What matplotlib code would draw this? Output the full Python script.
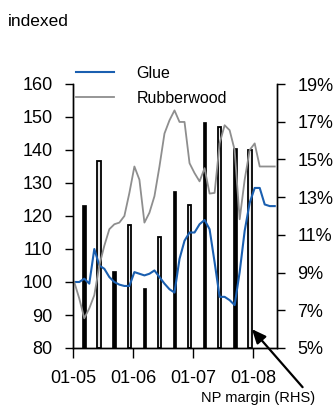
import matplotlib
matplotlib.use("Agg")
import matplotlib.pyplot as plt
import numpy as np
from matplotlib.ticker import FuncFormatter

plt.rcParams['font.family'] = ['Liberation Sans', 'DejaVu Sans']

# indices mensais, jan/05 = 100
glue = [100, 100, 101, 99.5, 110, 105, 104, 101.5, 100, 99.2, 98.8, 98.8,
        103, 102.5, 102, 102.5, 103.5, 101.5, 99.5, 97.8, 96.8, 107, 112.5, 115,
        115, 117.5, 118.8, 116, 106, 95.5, 95.5, 94.5, 93, 103, 115.5, 124,
        128.5, 128.5, 123.5, 123, 123]
rubberwood = [100, 95, 89, 92, 96, 105, 111, 116, 117.5, 118, 120, 127,
              135, 131, 118, 121, 126, 135, 145, 149, 152, 148.5, 148.5, 136,
              133, 130.5, 134.5, 126.8, 127, 142, 147.5, 146, 140, 119, 131, 140,
              142, 135, 135, 135, 135]

# margem liquida trimestral (eixo direito)
quarter_month = [2, 5, 8, 11, 14, 17, 20, 23, 26, 29, 32, 35]
np_margin = [12.6, 14.9, 9.1, 11.5, 8.2, 10.9, 13.3, 12.6, 17.0, 16.7, 15.6, 15.5]

year_ticks = [0, 12, 24, 36]
year_labels = ["01-05", "01-06", "01-07", "01-08"]

months = np.arange(len(glue)) + 0.25
qx = np.array(quarter_month) + 0.25

fig = plt.figure(figsize=(3.35, 4.05), dpi=100)
ax = fig.add_axes([73/335, 1 - 348/405, 204/335, 264/405])
ax2 = ax.twinx()

# barras alternadas: cheias e vazadas
for i, (x, v) in enumerate(zip(qx, np_margin)):
    if i % 2 == 0:
        ax2.bar(x, v - 5, bottom=5, width=0.75, color='black', edgecolor='black', linewidth=0.5)
    else:
        ax2.bar(x, v - 5, bottom=5, width=0.75, color='#ececec', edgecolor='black', linewidth=1.3)

ax.plot(months, glue, color='#1a5fb0', lw=1.5, label='Glue')
ax.plot(months, rubberwood, color='#8e8e8e', lw=1.3, label='Rubberwood')

ax.set_zorder(ax2.get_zorder() + 1)
ax.patch.set_visible(False)

ax.set_xlim(0, 40.7)
ax.set_ylim(80, 160)
ax.set_yticks(np.arange(80, 161, 10))
ax2.set_ylim(5, 19)
ax2.set_yticks(np.arange(5, 20, 2))
ax2.yaxis.set_major_formatter(FuncFormatter(lambda v, p: f"{v:.0f}%"))
ax.set_xticks(year_ticks)
ax.set_xticklabels(year_labels)

for a in (ax, ax2):
    a.spines['top'].set_visible(False)
    for s in a.spines.values():
        s.set_linewidth(1.0)
    a.tick_params(direction='out', length=6, width=1.0, labelsize=13, pad=8.5)
ax.tick_params(axis='x', length=7, pad=8.5)

leg = ax.legend(loc='upper left', bbox_to_anchor=(76/335, 1 - 66/405),
                bbox_transform=fig.transFigure, frameon=False, fontsize=11.5,
                handlelength=2.4, handletextpad=1.4, labelspacing=0.6,
                borderpad=0, borderaxespad=0)

fig.text(8/335, 1 - 22/405, "indexed", fontsize=12.5, ha='left', va='center')

ax2.annotate("NP margin (RHS)", xy=(35.7, 6.0), xycoords='data',
             xytext=(258/335, 1 - 398/405), textcoords='figure fraction',
             ha='center', va='center', fontsize=10.5,
             arrowprops=dict(arrowstyle='-|>,head_length=0.8,head_width=0.35',
                             color='black', lw=1.6, relpos=(0.92, 1.0),
                             shrinkA=1, shrinkB=0))

fig.savefig("out.png", dpi=100)
